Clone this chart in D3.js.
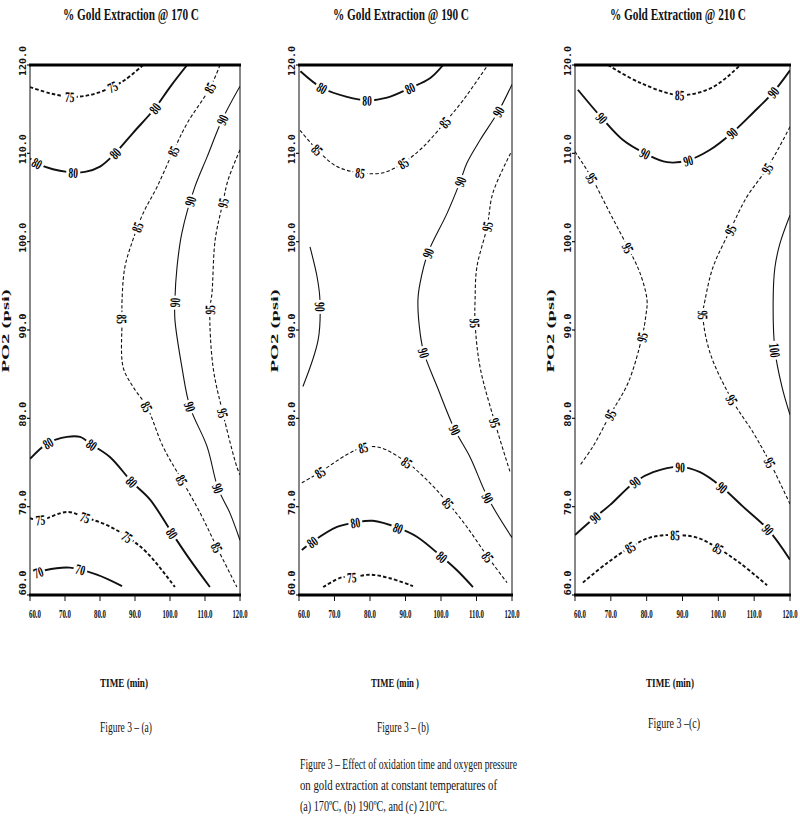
<!DOCTYPE html>
<html><head><meta charset="utf-8">
<script src="https://cdn.jsdelivr.net/npm/d3@7"></script>
<style>body{margin:0;background:#fff}svg{display:block}</style>
</head><body>
<svg id="chart" width="800" height="826"></svg>
<script>
// ---------------- data ----------------
const timeTicks = [60, 70, 80, 90, 100, 110, 120];
const pressureTicks = [60, 70, 80, 90, 100, 110, 120];
const panelTitles = ["% Gold Extraction @ 170 C", "% Gold Extraction @ 190 C", "% Gold Extraction @ 210 C"];
const xAxisTitles = ["TIME (min)", "TIME (min )", "TIME (min)"];
const yAxisTitle = "PO2 (psi)";
const figureLabels = ["Figure 3 – (a)", "Figure 3 – (b)", "Figure 3 –(c)"];
const captionLines = [
  "Figure 3 – Effect of oxidation time and oxygen pressure",
  "on gold extraction at constant temperatures of",
  "(a) 170ºC, (b) 190ºC, and (c) 210ºC."
];

// contour lines: level, points [time (min), PO2 (psi)], label positions [time, PO2]
const contours170 = [
  {level: 75, pts: [[60,117.5],[65.7,116.8],[71.4,116.4],[77.1,116.6],[82.9,117.4],[87.1,118.3],[92.3,120]], labels: [[71.4,116.4],[83.7,117.5]]},
  {level: 80, pts: [[60,109.4],[62.9,108.7],[70.6,107.9],[75.7,107.9],[80,108.5],[84.3,110],[89.4,112.3],[95.7,115.1],[100,117.5],[104.9,120]], labels: [[62.3,109.1],[72.3,107.8],[84.3,110],[95.7,115.1]]},
  {level: 85, pts: [[114.3,120],[111.4,117.4],[104.9,113.4],[100.9,110.2],[96.3,106.2],[92.3,103.2],[89.4,100.2],[87.1,97.1],[86.3,93.4],[86.3,91.2],[86.6,85.8],[89.4,83.6],[93.4,81.3],[98,76.8],[103.4,73],[108.6,69.3],[113.4,65.4],[119.1,60.9]], labels: [[111.4,117.4],[100.9,110.2],[91.4,101.5],[86.3,91.2],[93.4,81.3],[103.4,73],[113.4,65.4]]},
  {level: 90, pts: [[120,117.6],[114.9,113.8],[110.6,109.6],[107.1,106.2],[103.4,101],[102,97.1],[101.4,93.4],[101.4,91.2],[103.4,85.8],[105.7,81.3],[110.6,76.8],[113.7,72.1],[117.1,69.3],[120,66.2]], labels: [[114.9,113.8],[106.3,104.5],[101.4,93.1],[105.7,81.3],[113.7,72.1]]},
  {level: 95, pts: [[120,110.4],[116.6,107],[115.1,104.4],[112.9,100.2],[112,94.2],[111.4,92.3],[112.3,85.8],[115.1,80.6],[119.1,74.5],[120,73.6]], labels: [[115.1,104.4],[111.4,92.3],[115.1,80.6]]},
  {level: 80, pts: [[60,75.4],[65.1,77.2],[70.6,77.9],[74.3,77.9],[77.7,77],[82.9,75.6],[89.1,72.8],[94.3,70.8],[100.6,67],[105.7,64],[111.4,60.9]], labels: [[65.1,77.2],[77.7,77],[89.1,72.8],[100.6,67]]},
  {level: 75, pts: [[60,68.7],[62.9,68.5],[70.6,69.4],[75.7,68.8],[82,67.9],[87.7,66.6],[93.4,64.8],[101.4,60.9]], labels: [[62.9,68.5],[75.7,68.8],[87.7,66.6]]},
  {level: 70, pts: [[60.6,62.3],[64.3,62.8],[71.4,63.1],[79.1,62.3],[86.3,61]], labels: [[62.2,62.7],[74.3,62.7]]}
];
const contours190 = [
  {level: 80, pts: [[60.4,119.3],[66.5,117.4],[73.5,116.4],[79.2,116],[84.8,116.3],[91.3,117.4],[96.9,118.5],[100.6,120]], labels: [[66.5,117.4],[79.2,116],[91.3,117.4]]},
  {level: 85, pts: [[60.3,112.6],[65.1,110.4],[70.7,108.5],[77.2,107.8],[83.7,107.8],[89.3,108.9],[94.9,110.7],[101.1,113.5],[106.2,116],[113.2,120]], labels: [[65.1,110.4],[77.2,107.8],[89.3,108.9],[101.1,113.5]]},
  {level: 90, pts: [[120,117.8],[116.1,114.7],[111,111.5],[107.3,108.9],[105.4,106.8],[101.7,103.2],[96.3,98.7],[94.1,95.3],[93.5,93.4],[94.1,89.7],[95.2,87.4],[98.9,83.6],[103.9,78.7],[108.2,75.6],[113.2,71],[120,66.5]], labels: [[116.1,114.7],[105.4,106.8],[96.3,98.7],[95.2,87.4],[103.9,78.7],[113.2,71]]},
  {level: 95, pts: [[119.6,110],[114.6,105.5],[113,101.7],[110.1,97.1],[109.6,93.4],[109.6,90.8],[111,85.8],[115.2,79.5],[119.4,74]], labels: [[113,101.7],[109.6,90.8],[115.2,79.5]]},
  {level: 90, pts: [[63.1,99.4],[65.1,96],[65.9,93.4],[65.4,88.9],[61.1,83.6]], labels: [[65.9,92.6]]},
  {level: 85, pts: [[60.8,72.7],[65.9,73.9],[73.5,75.9],[78,76.7],[82.8,76.7],[90.4,75],[96.1,73],[102,70.4],[107.3,67.7],[113.2,64.3],[118.6,61.4]], labels: [[65.9,73.9],[78,76.7],[90.4,75],[102,70.4],[113.2,64.3]]},
  {level: 80, pts: [[60.8,65.1],[63.7,66],[70.7,67.7],[75.8,68.2],[80.8,68.4],[87.9,67.6],[93.2,66.6],[100.3,64.3],[104.5,62.8],[109,60.9]], labels: [[63.7,66],[75.8,68.2],[87.9,67.6],[100.3,64.3]]},
  {level: 75, pts: [[66.8,60.9],[72.1,62],[74.9,62],[80,62.3],[85.6,61.9],[92.1,61]], labels: [[74.9,62]]}
];
const contours210 = [
  {level: 85, pts: [[69.2,120],[78.1,118],[89.3,116.6],[98.5,117.5],[106.1,120]], labels: [[89.3,116.6]]},
  {level: 90, pts: [[60.8,117.2],[67.5,114],[73.4,111.5],[79.5,110],[85.7,109],[91.5,109.2],[97.7,110.4],[103.8,112.3],[109.7,114.6],[115.3,116.9],[120,119.4]], labels: [[67.5,114],[79.5,110],[91.5,109.2],[103.8,112.3],[115.3,116.9]]},
  {level: 95, pts: [[60,110.2],[64.7,107.2],[69.8,103.2],[74.8,99.3],[78.1,96.5],[80.1,93.4],[79.8,91.7],[78.7,89.2],[74.8,84],[69.8,80.4],[65,76.8],[61.4,74.7]], labels: [[64.7,107.2],[74.8,99.3],[78.7,89.2],[69.8,80.4]]},
  {level: 95, pts: [[120,113],[113.6,108.3],[108,105.1],[103.3,101.3],[98.5,97.1],[96.3,93.4],[95.7,91.7],[97.7,87.4],[103.8,82.1],[109.7,78.4],[114.4,75],[120,70.3]], labels: [[113.6,108.3],[103.3,101.3],[95.7,91.7],[103.8,82.1],[114.4,75]]},
  {level: 100, pts: [[120,103],[117.2,99.8],[115.8,97.1],[115.3,93.4],[115.8,87.7],[117.8,83.5],[120,80.4]], labels: [[115.8,87.7]]},
  {level: 90, pts: [[60,66.8],[65.6,68.8],[69.8,70.2],[76.7,72.8],[81.8,73.9],[89.3,74.5],[94.9,73.9],[101,72.2],[106.9,70],[113.9,67.4],[120,64]], labels: [[65.6,68.8],[76.7,72.8],[89.3,74.5],[101,72.2],[113.9,67.4]]},
  {level: 85, pts: [[62.2,61.4],[68.9,63.6],[75.4,65.4],[80.9,66.5],[87.9,66.8],[94,66.5],[99.9,65.3],[106.1,63.6],[113.6,61.1]], labels: [[75.4,65.4],[87.9,66.8],[99.9,65.3]]}
];

// ---------------- layout ----------------
const svg = d3.select("#chart");
const plotTop = 65, plotBottom = 595;
const serif = "'Liberation Serif', 'DejaVu Serif', serif";
const panels = [
  {contours: contours170, left: 30, right: 240, boldBelow: 85, titleX: 131, timeX: 124, figX: 126, figY: 732},
  {contours: contours190, left: 299, right: 512, boldBelow: 85, titleX: 401, timeX: 395, figX: 403, figY: 732},
  {contours: contours210, left: 575, right: 790, boldBelow: 95, titleX: 678, timeX: 670, figX: 674, figY: 728}
];
const defs = svg.append("defs");

panels.forEach((P, i) => {
  const x = d3.scaleLinear().domain([60, 120]).range([P.left, P.right]);
  const y = d3.scaleLinear().domain([60, 120]).range([plotBottom, plotTop]);
  const g = svg.append("g");

  defs.append("clipPath").attr("id", "clip" + i).append("rect")
    .attr("x", P.left).attr("y", plotTop).attr("width", P.right - P.left).attr("height", plotBottom - plotTop);

  const cg = g.append("g").attr("clip-path", `url(#clip${i})`);
  const lg = g.append("g");
  const line = d3.line().x(d => x(d[0])).y(d => y(d[1])).curve(d3.curveCatmullRom.alpha(0.5));

  P.contours.forEach(c => {
    const dashed = c.level % 10 === 5;
    const bold = c.level < P.boldBelow;
    const path = cg.append("path").datum(c.pts).attr("d", line)
      .attr("fill", "none").attr("stroke", "#111")
      .attr("stroke-width", bold ? 1.9 : 1.1)
      .attr("stroke-dasharray", dashed ? "3.5,2.2" : null);
    const node = path.node();
    const L = node.getTotalLength();
    c.labels.forEach(lb => {
      const px = x(lb[0]), py = y(lb[1]);
      let best = 0, bd = Infinity;
      for (let s = 0; s <= L; s += 0.5) {
        const p = node.getPointAtLength(s);
        const d = (p.x - px) ** 2 + (p.y - py) ** 2;
        if (d < bd) { bd = d; best = s; }
      }
      const p = node.getPointAtLength(best);
      const a = node.getPointAtLength(Math.max(0, best - 3));
      const b = node.getPointAtLength(Math.min(L, best + 3));
      let ang = Math.atan2(b.y - a.y, b.x - a.x) * 180 / Math.PI;
      if (ang > 90) ang -= 180;
      if (ang < -90) ang += 180;
      const t = lg.append("g").attr("transform", `translate(${p.x},${p.y}) rotate(${ang})`);
      const w = String(c.level).length * 5 + 4;
      t.append("rect").attr("x", -w / 2).attr("y", -6).attr("width", w).attr("height", 12).attr("fill", "#fff");
      t.append("text").attr("transform", "scale(0.65,1)")
        .attr("text-anchor", "middle").attr("dy", "0.36em")
        .attr("font-family", serif).attr("font-weight", "bold").attr("font-size", 14.5)
        .attr("fill", "#000").text(c.level);
    });
  });

  // frame
  g.append("line").attr("x1", x(60)).attr("x2", x(60)).attr("y1", plotTop).attr("y2", plotBottom).attr("stroke", "#111").attr("stroke-width", 1);
  g.append("line").attr("x1", x(120)).attr("x2", x(120)).attr("y1", plotTop).attr("y2", plotBottom).attr("stroke", "#111").attr("stroke-width", 1);
  g.append("line").attr("x1", x(60) - 1).attr("x2", x(120) + 1).attr("y1", plotTop).attr("y2", plotTop).attr("stroke", "#000").attr("stroke-width", 3);
  g.append("line").attr("x1", x(60) - 1).attr("x2", x(120) + 1).attr("y1", plotBottom).attr("y2", plotBottom).attr("stroke", "#000").attr("stroke-width", 3);

  // y ticks
  pressureTicks.forEach((v, k) => {
    g.append("line").attr("x1", x(60) - 3).attr("x2", x(60)).attr("y1", y(v)).attr("y2", y(v)).attr("stroke", "#111").attr("stroke-width", 1.2);
    const cy = k === 0 ? y(v) - 12 : y(v) - 4;
    g.append("text").attr("transform", `translate(${x(60) - 7},${cy}) rotate(-90)`)
      .attr("text-anchor", "middle").attr("dy", "0.35em")
      .attr("font-family", "'DejaVu Sans Mono', monospace").attr("font-weight", "bold").attr("font-size", 8)
      .attr("textLength", v >= 100 ? 30 : 25).attr("lengthAdjust", "spacingAndGlyphs")
      .attr("fill", "#111").text(v.toFixed(1));
  });
  // x ticks
  timeTicks.forEach((v, k) => {
    g.append("line").attr("x1", x(v)).attr("x2", x(v)).attr("y1", plotBottom).attr("y2", plotBottom + 6).attr("stroke", "#111").attr("stroke-width", 1);
    const cx = k === 0 ? x(v) + 5 : Math.min(x(v), 790);
    g.append("text").attr("x", cx).attr("y", 618)
      .attr("text-anchor", "middle")
      .attr("font-family", serif).attr("font-weight", "bold").attr("font-size", 12)
      .attr("textLength", v >= 100 ? 15 : 12).attr("lengthAdjust", "spacingAndGlyphs")
      .attr("fill", "#111").text(v.toFixed(1));
  });

  // titles
  g.append("text").attr("x", P.titleX).attr("y", 20).attr("text-anchor", "middle")
    .attr("font-family", serif).attr("font-weight", "bold").attr("font-size", 17)
    .attr("textLength", 136).attr("lengthAdjust", "spacingAndGlyphs").attr("fill", "#111")
    .text(panelTitles[i]);
  g.append("text").attr("transform", `translate(${P.left - 25},331) rotate(-90)`)
    .attr("text-anchor", "middle").attr("dy", "0.35em")
    .attr("font-family", serif).attr("font-weight", "bold").attr("font-size", 11)
    .attr("textLength", 83).attr("lengthAdjust", "spacingAndGlyphs").attr("fill", "#111")
    .text(yAxisTitle);
  g.append("text").attr("x", P.timeX).attr("y", 687).attr("text-anchor", "middle")
    .attr("font-family", serif).attr("font-weight", "bold").attr("font-size", 12)
    .attr("textLength", 48).attr("lengthAdjust", "spacingAndGlyphs").attr("fill", "#111")
    .text(xAxisTitles[i]);
  g.append("text").attr("x", P.figX).attr("y", P.figY).attr("text-anchor", "middle")
    .attr("font-family", serif).attr("font-size", 15)
    .attr("textLength", 52).attr("lengthAdjust", "spacingAndGlyphs").attr("fill", "#111")
    .text(figureLabels[i]);
});

const capWidths = [217, 197, 147];
captionLines.forEach((s, k) => {
  svg.append("text").attr("x", 300).attr("y", 769 + k * 21)
    .attr("font-family", serif).attr("font-size", 15)
    .attr("textLength", capWidths[k]).attr("lengthAdjust", "spacingAndGlyphs")
    .attr("fill", "#111").text(s);
});
</script>
</body></html>
